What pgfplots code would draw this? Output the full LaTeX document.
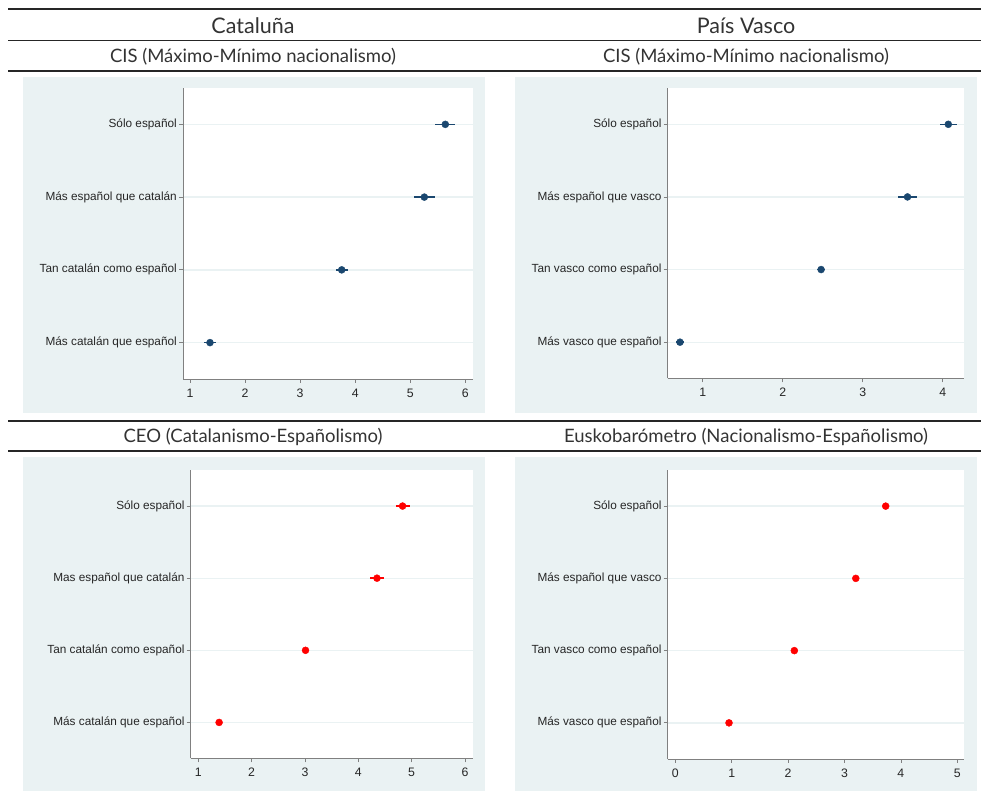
\documentclass[border=0pt]{standalone}
\usepackage{pgfplots}
\pgfplotsset{compat=1.18}
\usepackage{fontspec}
\setmainfont{Liberation Sans}
\newfontfamily\headfont{Lato}
\definecolor{stbg}{HTML}{EAF2F3}
\definecolor{stnavy}{HTML}{1A476F}
\definecolor{axgray}{HTML}{808080}
\definecolor{headtxt}{HTML}{333333}

\pgfplotsset{
  panel/.style={
    scale only axis, anchor=south west,
    axis lines*=left,
    axis line style={axgray, line width=0.9pt},
    tick align=outside, major tick length=4pt,
    tick style={axgray, line width=0.8pt},
    ytick={1,2,3,4}, ymin=0.5, ymax=4.5,
    ymajorgrids, grid style={stbg, line width=1.3pt},
    ticklabel style={font=\fontsize{11.8}{14}\selectfont, text=black!85},
    yticklabel style={inner sep=2pt},
    xticklabel style={inner sep=5.5pt, font=\fontsize{12.3}{14}\selectfont},
    /pgf/number format/assume math mode=true,
    axis background/.style={fill=white},
    clip=false,
  },
  navydots/.style={only marks, mark=*, mark size=3.5pt, color=stnavy,
    error bars/.cd, x dir=both, x explicit, error mark=none,
    error bar style={line width=1.5pt, stnavy}},
  reddots/.style={only marks, mark=*, mark size=3.5pt, color=red,
    error bars/.cd, x dir=both, x explicit, error mark=none,
    error bar style={line width=1.5pt, red}},
}

\begin{document}
\begin{tikzpicture}
\path[use as bounding box] (0pt,0pt) rectangle (981pt,794pt);
% panel backgrounds
\fill[stbg] (23pt,381pt) rectangle (485pt,717pt);
\fill[stbg] (515pt,381pt) rectangle (977pt,717pt);
\fill[stbg] (23pt,3pt) rectangle (485pt,337pt);
\fill[stbg] (515pt,3pt) rectangle (977pt,337pt);

% rules
\draw[black!85, line width=1.5pt] (8pt,785pt) -- (981pt,785pt);
\draw[black!85, line width=1.2pt] (8pt,753.5pt) -- (981pt,753.5pt);
\draw[black!85, line width=1.2pt] (8pt,723pt) -- (981pt,723pt);
\draw[black!85, line width=1.2pt] (8pt,373pt) -- (981pt,373pt);
\draw[black!85, line width=1.2pt] (8pt,343pt) -- (981pt,343pt);

% headers
\node[text=headtxt, font=\headfont\fontsize{21.5}{24}\selectfont] at (253pt,768pt) {Cataluña};
\node[text=headtxt, font=\headfont\fontsize{21.5}{24}\selectfont] at (746pt,768pt) {País Vasco};
\node[text=headtxt, font=\headfont\fontsize{18.5}{21}\selectfont] at (253pt,737pt) {CIS (Máximo-Mínimo nacionalismo)};
\node[text=headtxt, font=\headfont\fontsize{18.5}{21}\selectfont] at (746pt,737pt) {CIS (Máximo-Mínimo nacionalismo)};
\node[text=headtxt, font=\headfont\fontsize{18.5}{21}\selectfont] at (253pt,357pt) {CEO (Catalanismo-Españolismo)};
\node[text=headtxt, font=\headfont\fontsize{18.5}{21}\selectfont] at (746pt,357pt) {Euskobarómetro (Nacionalismo-Españolismo)};

% Panel 1: Cataluña CIS
\begin{axis}[panel, at={(183pt,415pt)}, width=290pt, height=291pt,
  xmin=0.873, xmax=6.139, xtick={1,2,3,4,5,6},
  yticklabels={Más catalán que español, Tan catalán como español, Más español que catalán, Sólo español}]
\addplot[navydots] coordinates {
  (1.363,1) +- (0.11,0)
  (3.755,2) +- (0.11,0)
  (5.255,3) +- (0.19,0)
  (5.636,4) +- (0.185,0)
};
\end{axis}

% Panel 2: País Vasco CIS
\begin{axis}[panel, at={(667.7pt,415.5pt)}, width=296.6pt, height=290.5pt,
  xmin=0.5625, xmax=4.27, xtick={1,2,3,4},
  yticklabels={Más vasco que español, Tan vasco como español, Más español que vasco, Sólo español}]
\addplot[navydots] coordinates {
  (0.716,1) +- (0.055,0)
  (2.48,2) +- (0.05,0)
  (3.56,3) +- (0.115,0)
  (4.07,4) +- (0.11,0)
};
\end{axis}

% Panel 3: Cataluña CEO
\begin{axis}[panel, at={(190.7pt,35.5pt)}, width=282pt, height=288.5pt,
  xmin=0.857, xmax=6.145, xtick={1,2,3,4,5,6},
  yticklabels={Más catalán que español, Tan catalán como español, Mas español que catalán, Sólo español}]
\addplot[reddots] coordinates {
  (1.39,1) +- (0.04,0)
  (3.01,2) +- (0.07,0)
  (4.35,3) +- (0.135,0)
  (4.83,4) +- (0.13,0)
};
\end{axis}

% Panel 4: País Vasco Euskobarómetro
\begin{axis}[panel, at={(667.7pt,35pt)}, width=296.6pt, height=289pt,
  xmin=-0.135, xmax=5.124, xtick={0,1,2,3,4,5},
  yticklabels={Más vasco que español, Tan vasco como español, Más español que vasco, Sólo español}]
\addplot[reddots] coordinates {
  (0.952,1) +- (0.02,0)
  (2.11,2) +- (0.02,0)
  (3.20,3) +- (0.02,0)
  (3.73,4) +- (0.02,0)
};
\end{axis}
\end{tikzpicture}
\end{document}
